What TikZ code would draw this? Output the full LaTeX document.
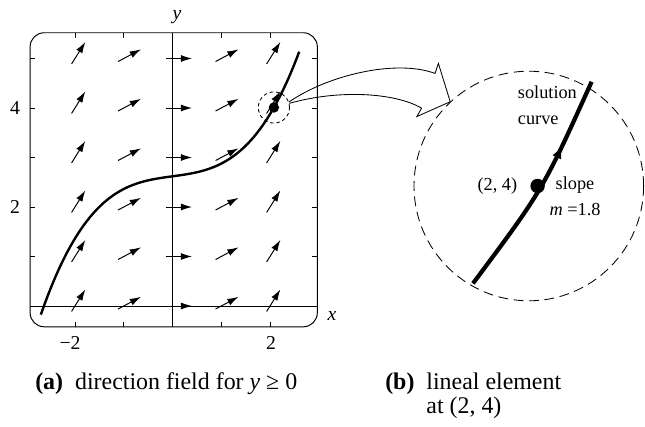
\documentclass[tikz,border=0pt]{standalone}
\usepackage{fontspec}
\setmainfont{Liberation Serif}
\usetikzlibrary{positioning,arrows.meta,decorations.markings}
\tikzset{
  boxframe/.style={line width=0.7pt,rounded corners=0.35cm},
  axisline/.style={line width=0.6pt},
  tickmark/.style={line width=0.6pt},
  fieldarr/.style={line width=0.7pt,-{Latex[length=8pt,width=5pt]}},
  solcurve/.style={line width=1.7pt},
  zoomcurve/.style={line width=3pt,postaction={decorate},decoration={markings,mark=at position 0.7 with {\arrow{Latex[length=9pt,width=7pt]}}}},
  smalldot/.style={circle,fill=black,inner sep=0pt,minimum size=0.26cm},
  bigdot/.style={circle,fill=black,inner sep=0pt,minimum size=0.36cm},
  zoomring/.style={circle,draw,dash pattern=on 2.5pt off 2pt,line width=0.6pt,inner sep=0pt,minimum size=0.78cm},
  bigring/.style={circle,draw,dash pattern=on 7pt off 4pt,line width=0.6pt,inner sep=0pt,minimum size=5.74cm},
  hollowarr/.style={line width=0.6pt,line join=miter},
  ticklab/.style={font=\fontsize{14}{16}\selectfont},
  lab/.style={font=\fontsize{13}{18.5}\selectfont},
  caption/.style={font=\fontsize{17}{17}\selectfont,inner sep=0pt}
}
\begin{document}
\begin{tikzpicture}
\useasboundingbox (0,0) rectangle (16.125,10.675);
\begin{scope}[shift={(4.3125,3.025)},x=1.219cm,y=1.2375cm]
  \draw[boxframe] (-2.92,-0.42) rectangle (2.97,5.52);
  \draw[axisline] (-2.92,0) -- (2.97,0);
  \draw[axisline] (0,-0.42) -- (0,5.52);
  \foreach \y in {1,...,5} {
    \draw[tickmark] (-2.92,\y) -- ++(0.1,0);
    \draw[tickmark] (2.97,\y) -- ++(-0.1,0);
  }
  \foreach \x in {-2,-1,1,2} {
    \draw[tickmark] (\x,-0.42) -- ++(0,0.1);
    \draw[tickmark] (\x,5.52) -- ++(0,-0.1);
  }
  \foreach \x/\a in {-2/58,-1/28,0/0,1/28,2/58}
    \foreach \y in {0,...,5}
      \draw[fieldarr] (\x,\y) ++(\a:-0.16cm) -- ++(\a:0.65cm);
  \draw[solcurve] plot[domain=-2.7:2.6,samples=80] (\x,{2.62+0.133*\x+0.1237*\x*\x*\x});
  \node[smalldot] (pt) at (2.08,4.01) {};
  \node[zoomring] (zoomsmall) at (pt) {};
  \node[ticklab] (ytick4) at (-3.23,4) {4};
  \node[ticklab] (ytick2) at (-3.23,2) {2};
  \node[ticklab] (xtickm2) at (-2.1,-0.75) {−2};
  \node[ticklab] (xtick2) at (2.02,-0.75) {2};
  \node[ticklab] (xname) at (3.27,-0.2) {\textit{x}};
  \node[ticklab] (yname) at (0.09,5.84) {\textit{y}};
\end{scope}
\node[bigring] (zoombig) at (13.22,6.025) {};
\draw[zoomcurve] (11.825,3.59) .. controls (13.575,5.935) .. (14.79,8.63);
\node[bigdot] (zoomdot) at (13.44,6.025) {};
\node[lab,left=0.2cm of zoomdot] (ptlab) {(2, 4)};
\node[lab,align=center] (slopelab) at (14.375,5.78) {slope\\\textit{m} =1.8};
\node[lab,align=left,anchor=west] (sollab) at (12.825,8.05) {solution\\curve};
\draw[hollowarr] (zoomsmall.20) .. controls (8.2,8.8) and (9.9,9.2) .. (10.875,8.84)
  -- (10.96,9.09) -- (zoombig.133) -- (10.42,7.76) -- (10.54,7.97)
  .. controls (9.9,8.35) and (8.5,8.45) .. (zoomsmall.15);
\node[caption,anchor=base west] (capa) at (0.875,0.925) {\textbf{(a)}\enspace direction field for \textit{y} ≥ 0};
\node[caption,anchor=base west] (capb) at (9.625,0.925) {\textbf{(b)}\enspace\begin{tabular}[t]{@{}l@{}}lineal element\\at (2, 4)\end{tabular}};
\end{tikzpicture}
\end{document}
